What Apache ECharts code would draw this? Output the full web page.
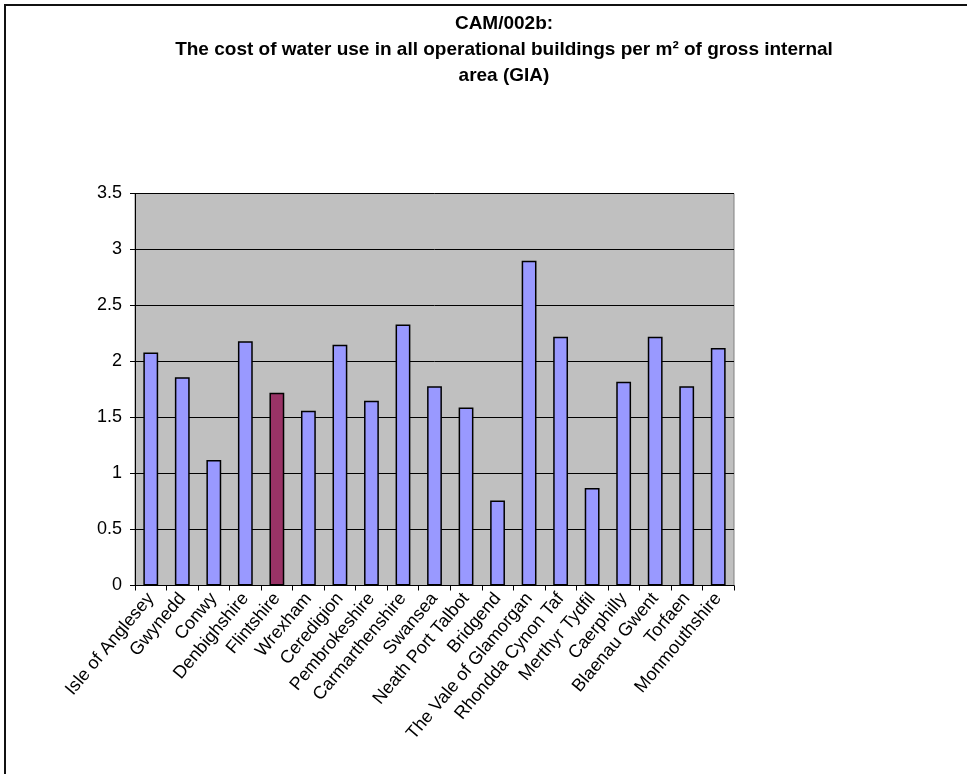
<!DOCTYPE html>
<html>
<head>
<meta charset="utf-8">
<title>CAM/002b</title>
<script src="https://cdn.jsdelivr.net/npm/echarts@6/dist/echarts.min.js"></script>
<style>
  html, body { margin: 0; padding: 0; background: #ffffff; }
  #chart { width: 967px; height: 774px; }
</style>
</head>
<body>
<div id="chart"></div>
<script>
// Local authorities in Wales
const authorities = [
  'Isle of Anglesey', 'Gwynedd', 'Conwy', 'Denbighshire', 'Flintshire',
  'Wrexham', 'Ceredigion', 'Pembrokeshire', 'Carmarthenshire', 'Swansea',
  'Neath Port Talbot', 'Bridgend', 'The Vale of Glamorgan', 'Rhondda Cynon Taf',
  'Merthyr Tydfil', 'Caerphilly', 'Blaenau Gwent', 'Torfaen', 'Monmouthshire'
];

// Cost of water use per m² of GIA
const waterCost = [
  2.08, 1.86, 1.12, 2.18, 1.72,
  1.56, 2.15, 1.65, 2.33, 1.78,
  1.59, 0.76, 2.90, 2.22,
  0.87, 1.82, 2.22, 1.78, 2.12
];

// Y axis tick labels
const yTicks = [0, 0.5, 1, 1.5, 2, 2.5, 3, 3.5];

// Authority shown in the accent colour
const focusAuthority = 'Flintshire';

const chart = echarts.init(document.getElementById('chart'), null, { renderer: 'canvas' });

const FONT = '"Liberation Sans", Arial, Helvetica, sans-serif';

chart.setOption({
  animation: false,
  backgroundColor: '#ffffff',
  textStyle: { fontFamily: FONT },
  title: {
    text: 'CAM/002b:\nThe cost of water use in all operational buildings per m² of gross internal\narea (GIA)',
    left: 499,
    top: 6,
    textAlign: 'center',
    textStyle: {
      fontFamily: FONT,
      fontSize: 19,
      fontWeight: 'bold',
      color: '#000000',
      lineHeight: 26
    }
  },
  graphic: [{
    type: 'rect',
    shape: { x: 5, y: 5, width: 1200, height: 1000 },
    style: { fill: 'none', stroke: '#111111', lineWidth: 2 },
    silent: true,
    z: 100
  }],
  grid: {
    left: 135,
    top: 193.5,
    right: 233,
    bottom: 188.5,
    show: true,
    backgroundColor: '#c0c0c0',
    borderColor: '#808080',
    borderWidth: 1
  },
  xAxis: {
    type: 'category',
    data: authorities,
    axisLine: { show: true, lineStyle: { color: '#000000', width: 1 } },
    axisTick: { show: true, alignWithLabel: false, length: 5, lineStyle: { color: '#000000' } },
    axisLabel: {
      interval: 0,
      rotate: 50,
      margin: 10,
      color: '#000000',
      fontFamily: FONT,
      fontSize: 18
    },
    splitLine: { show: false }
  },
  yAxis: {
    type: 'value',
    min: yTicks[0],
    max: yTicks[yTicks.length - 1],
    interval: yTicks[1] - yTicks[0],
    axisLine: { show: true, lineStyle: { color: '#000000', width: 1 } },
    axisTick: { show: true, length: 5, lineStyle: { color: '#000000' } },
    axisLabel: {
      margin: 13,
      color: '#000000',
      fontFamily: FONT,
      fontSize: 18,
      formatter: v => String(v)
    },
    splitLine: { show: true, lineStyle: { color: '#000000', width: 1 } }
  },
  series: [{
    type: 'bar',
    data: waterCost,
    barWidth: '47%',
    itemStyle: {
      color: p => authorities[p.dataIndex] === focusAuthority ? '#993366' : '#9999ff',
      borderColor: '#000000',
      borderWidth: 1.5
    }
  }]
});
</script>
</body>
</html>
